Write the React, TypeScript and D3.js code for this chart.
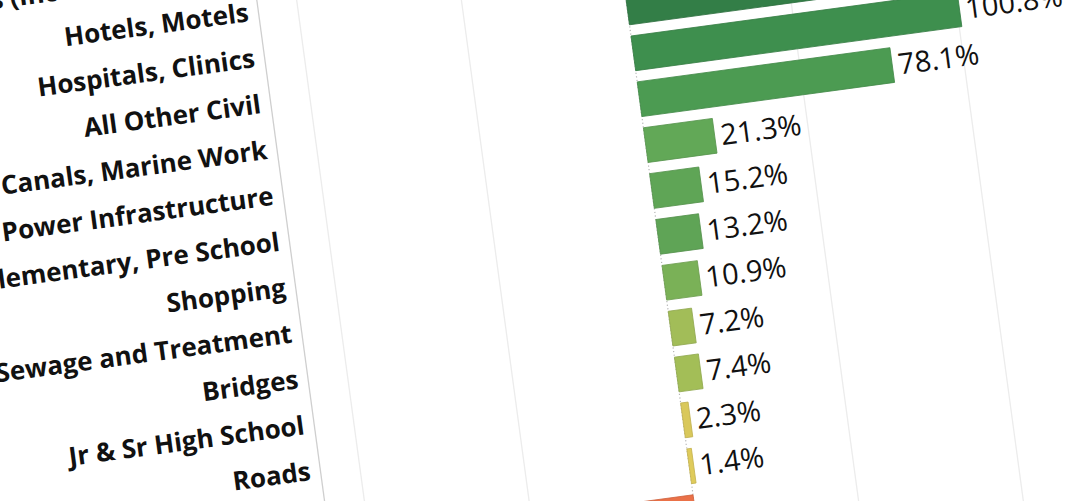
import React from 'react';
import * as d3 from 'd3';

// Categories in row order (top to bottom)
const categories: string[] = [
  'Warehouses (Incl Refrigerated)',
  'Hotels, Motels',
  'Hospitals, Clinics',
  'All Other Civil',
  'Canals, Marine Work',
  'Power Infrastructure',
  'Elementary, Pre School',
  'Shopping',
  'Sewage and Treatment',
  'Bridges',
  'Jr & Sr High School',
  'Roads',
  'Water Supply',
  'Dormitories',
];

// Percent change values
const values: number[] = [150.0, 130.0, 118.0, 100.8, 78.1, 21.3, 15.2, 13.2, 10.9, 7.2, 7.4, 2.3, 1.4, -25.0];

// Bar colours
const colors: string[] = [
  '#2c7742', '#2f7a44', '#337e47', '#3e8f4e', '#4c9b52', '#62a857', '#5fa556',
  '#5fa456', '#7ab157', '#a2bd58', '#a3be57', '#d9c85b', '#dfcb5b', '#ea7148',
];

const gridTicks: number[] = [-100, -50, 50, 100, 150];

const W = 1069;
const H = 501;

export default function App() {
  const step = 46.3;
  const bw = 35;
  const p = 1 - bw / step;
  const anchorIndex = 3;
  const n = categories.length;
  const r0 = -anchorIndex * step - (step * p) / 2;

  const x = d3.scaleLinear().domain([-100, 100]).range([-326.5, 326.5]);
  const y = d3
    .scaleBand<string>()
    .domain(categories)
    .range([r0, r0 + n * step])
    .paddingInner(p)
    .paddingOuter(p / 2);

  const yTop = r0 - 200;
  const yBot = r0 + n * step + 200;
  const fmt = d3.format('.1f');

  return (
    <svg
      width={W}
      height={H}
      style={{ position: 'absolute', left: 0, top: 0, background: '#fff' }}
    >
      <rect x={0} y={0} width={W} height={H} fill="#ffffff" />
      <g transform="translate(631,36) rotate(-7.7)">
        {gridTicks.map((t) => (
          <line
            key={t}
            x1={x(t)}
            x2={x(t)}
            y1={yTop}
            y2={yBot}
            stroke="#ececec"
            strokeWidth={1.3}
          />
        ))}
        <line x1={-366} x2={-366} y1={yTop} y2={yBot} stroke="#cfcfcf" strokeWidth={1.3} />
        <line
          x1={x(0)}
          x2={x(0)}
          y1={yTop}
          y2={yBot}
          stroke="#b5b5b5"
          strokeWidth={1.2}
          strokeDasharray="1.2,2.4"
        />
        {categories.map((c, i) => {
          const v = values[i];
          const x0 = Math.min(x(0), x(v));
          const w = Math.abs(x(v) - x(0));
          const col = colors[i];
          return (
            <g key={c}>
              <rect
                x={x0}
                y={y(c)}
                width={w}
                height={y.bandwidth()}
                fill={col}
                stroke={d3.color(col)!.darker(0.35).toString()}
                strokeWidth={0.8}
              />
              <text
                x={v >= 0 ? x(v) + 6 : x(v) - 6}
                y={(y(c) as number) + y.bandwidth() / 2}
                dy="0.36em"
                textAnchor={v >= 0 ? 'start' : 'end'}
                fontFamily="'Open Sans', sans-serif"
                fontSize={29}
                fill="#111"
              >
                {fmt(v)}%
              </text>
              <text
                x={-376}
                y={(y(c) as number) + y.bandwidth() / 2}
                dy="0.36em"
                textAnchor="end"
                fontFamily="'Open Sans', sans-serif"
                fontWeight={700}
                fontSize={26}
                fill="#111"
              >
                {c}
              </text>
            </g>
          );
        })}
      </g>
    </svg>
  );
}
